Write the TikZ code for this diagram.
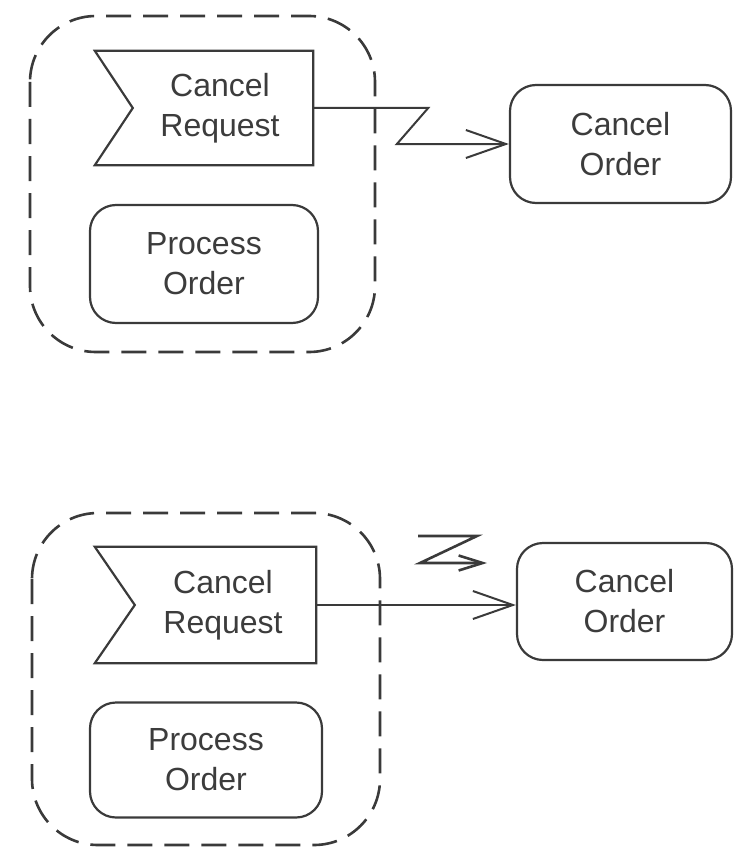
\documentclass[tikz,border=0pt]{standalone}
\usepackage{fontspec}
\setmainfont{Liberation Sans}
\usetikzlibrary{arrows.meta,calc}
\definecolor{ln}{HTML}{3A3A3A}
\definecolor{tx}{HTML}{3C3C3C}
\begin{document}
\begin{tikzpicture}[x=1pt,y=-1pt,
  lbl/.style={font=\fontsize{32}{40}\selectfont, text=tx, align=center, inner sep=0pt},
  rbox/.style={lbl, draw=ln, line width=2.2pt, rounded corners=26pt},
  evbox/.style={lbl},
  grp/.style={draw=ln, line width=2.6pt, dash pattern=on 25pt off 12pt, rounded corners=66pt},
  conn/.style={draw=ln, line width=2pt, -{Straight Barb[length=40pt,width=28pt]}},
  bolt/.style={draw=ln, line width=2.6pt, -{Straight Barb[length=24pt,width=15pt]}},
  evline/.style={draw=ln, line width=2.2pt, line join=miter}]
\useasboundingbox (0,0) rectangle (733,848);

% ---------- top diagram ----------
\draw[grp] (30,16) rectangle (375,352);
\node[evbox, minimum width=186pt, minimum height=114pt] (cr1) at (220,108) {Cancel\\Request};
\draw[evline] (cr1.north east) -- (cr1.south east) -- ([xshift=-32pt]cr1.south west)
  -- ([xshift=6pt]cr1.west) -- ([xshift=-32pt]cr1.north west) -- cycle;
\node[rbox, minimum width=228pt, minimum height=118pt] (po1) at (204,264) {Process\\Order};
\node[rbox, minimum width=221pt, minimum height=118pt] (co1) at (620.5,144) {Cancel\\Order};
\draw[conn] (cr1.east) -- ++(115,0) -- ($(co1.west)+(-112,0)$) -- (co1.west);

% ---------- bottom diagram ----------
\draw[grp] (32,513) rectangle (380,845);
\node[evbox, minimum width=186pt, minimum height=116pt] (cr2) at (223,605) {Cancel\\Request};
\draw[evline] (cr2.north east) -- (cr2.south east) -- ([xshift=-35pt]cr2.south west)
  -- ([xshift=5pt]cr2.west) -- ([xshift=-35pt]cr2.north west) -- cycle;
\node[rbox, minimum width=232pt, minimum height=115pt] (po2) at (206,760) {Process\\Order};
\node[rbox, minimum width=215pt, minimum height=117pt] (co2) at (624.5,601.5) {Cancel\\Order};
\draw[conn] (cr2.east) -- (cr2.east -| co2.west);
\draw[bolt, line join=miter] (418,536) -- (477,536) -- (420,563) -- (487,563);
\end{tikzpicture}
\end{document}
